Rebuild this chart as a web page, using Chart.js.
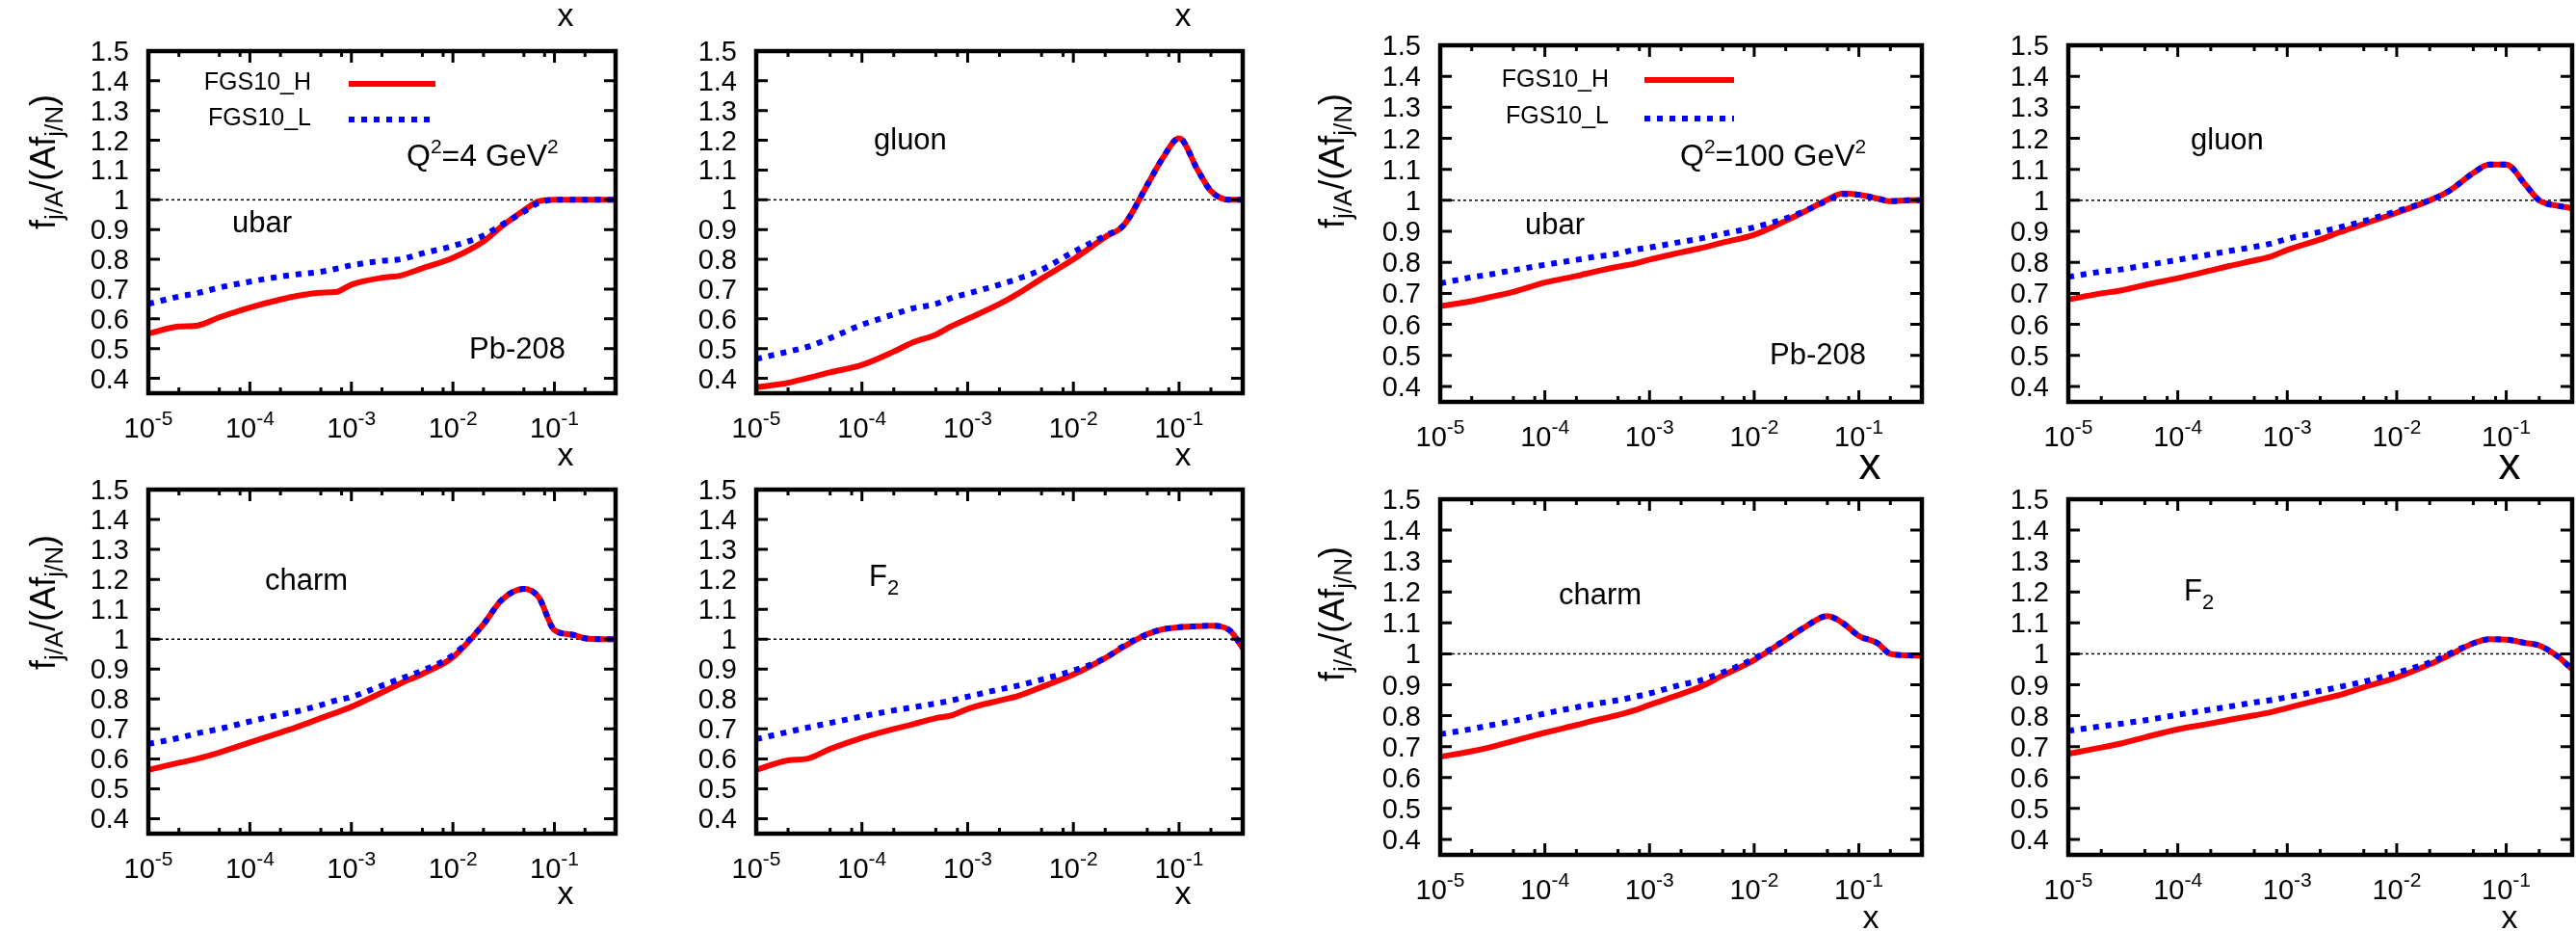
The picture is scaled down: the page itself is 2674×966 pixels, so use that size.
<!DOCTYPE html>
<html>
<head>
<meta charset="utf-8">
<script src="https://cdn.jsdelivr.net/npm/chart.js@4.4.1/dist/chart.umd.min.js"></script>
<style>
  html, body { margin: 0; padding: 0; background: #fff; overflow: hidden; }
  #fig { position: relative; width: 2674px; height: 966px; }
  #fig canvas { position: absolute; }
</style>
</head>
<body>
<div id="fig"></div>
<script>
// x values (Bjorken x) shared by every curve
const xGrid = [1e-5, 2e-5, 3e-5, 5e-5, 1e-4, 2e-4, 3e-4, 5e-4, 7e-4, 1e-3, 2e-3, 3e-3, 5e-3,
               1e-2, 2e-2, 3e-2, 5e-2, 7e-2, 0.1, 0.15, 0.2, 0.3, 0.4];

// Q^2 = 4 GeV^2
const ubar4H  = [0.55, 0.574, 0.577, 0.605, 0.638, 0.665, 0.678, 0.688, 0.69, 0.715, 0.738, 0.745, 0.77, 0.805, 0.86, 0.91, 0.965, 0.995, 1.0, 1.0, 1.0, 1.0, 1.0];
const ubar4L  = [0.65, 0.675, 0.686, 0.705, 0.725, 0.742, 0.75, 0.758, 0.768, 0.78, 0.795, 0.80, 0.82, 0.845, 0.88, 0.915, 0.96, 0.99, 1.0, 1.0, 1.0, 1.0, 1.0];
const gluon4H = [0.37, 0.385, 0.40, 0.42, 0.445, 0.49, 0.52, 0.547, 0.575, 0.60, 0.65, 0.685, 0.735, 0.80, 0.875, 0.915, 1.05, 1.14, 1.207, 1.10, 1.03, 1.0, 1.0];
const gluon4L = [0.465, 0.49, 0.505, 0.535, 0.58, 0.615, 0.635, 0.65, 0.67, 0.685, 0.715, 0.735, 0.765, 0.825, 0.88, 0.915, 1.05, 1.14, 1.207, 1.10, 1.03, 1.0, 1.0];
const charm4H = [0.563, 0.587, 0.60, 0.621, 0.655, 0.688, 0.708, 0.736, 0.754, 0.774, 0.822, 0.851, 0.884, 0.94, 1.05, 1.13, 1.168, 1.14, 1.03, 1.015, 1.003, 1.0, 1.0];
const charm4L = [0.65, 0.67, 0.685, 0.70, 0.725, 0.748, 0.76, 0.78, 0.795, 0.807, 0.845, 0.867, 0.895, 0.947, 1.05, 1.13, 1.168, 1.14, 1.03, 1.015, 1.003, 1.0, 1.0];
const f2_4H   = [0.563, 0.595, 0.60, 0.633, 0.67, 0.70, 0.715, 0.736, 0.745, 0.767, 0.795, 0.81, 0.84, 0.882, 0.937, 0.975, 1.017, 1.033, 1.04, 1.043, 1.045, 1.03, 0.97];
const f2_4L   = [0.666, 0.69, 0.704, 0.72, 0.742, 0.762, 0.772, 0.785, 0.795, 0.808, 0.832, 0.845, 0.865, 0.895, 0.937, 0.978, 1.017, 1.033, 1.04, 1.043, 1.045, 1.03, 0.97];

// Q^2 = 100 GeV^2
const ubar100H  = [0.659, 0.675, 0.688, 0.705, 0.735, 0.756, 0.77, 0.786, 0.795, 0.809, 0.832, 0.845, 0.864, 0.889, 0.934, 0.963, 1.002, 1.022, 1.018, 1.006, 0.997, 1.0, 1.0];
const ubar100L  = [0.732, 0.752, 0.761, 0.775, 0.792, 0.808, 0.818, 0.828, 0.84, 0.848, 0.866, 0.876, 0.892, 0.913, 0.942, 0.965, 0.999, 1.02, 1.018, 1.006, 0.997, 1.0, 1.0];
const gluon100H = [0.68, 0.70, 0.709, 0.727, 0.749, 0.774, 0.789, 0.806, 0.818, 0.84, 0.874, 0.897, 0.924, 0.96, 1.0, 1.03, 1.088, 1.115, 1.115, 1.05, 1.0, 0.982, 0.975];
const gluon100L = [0.753, 0.77, 0.777, 0.79, 0.808, 0.826, 0.837, 0.85, 0.86, 0.876, 0.898, 0.913, 0.933, 0.965, 1.0, 1.03, 1.088, 1.115, 1.115, 1.05, 1.0, 0.982, 0.975];
const charm100H = [0.667, 0.685, 0.698, 0.718, 0.745, 0.77, 0.785, 0.802, 0.816, 0.835, 0.87, 0.892, 0.93, 0.98, 1.046, 1.085, 1.122, 1.10, 1.058, 1.035, 1.0, 0.995, 0.994];
const charm100L = [0.74, 0.757, 0.769, 0.783, 0.807, 0.827, 0.838, 0.85, 0.86, 0.872, 0.90, 0.913, 0.94, 0.985, 1.046, 1.085, 1.122, 1.10, 1.058, 1.035, 1.0, 0.995, 0.994];
const f2_100H   = [0.677, 0.697, 0.71, 0.73, 0.756, 0.775, 0.787, 0.801, 0.811, 0.825, 0.852, 0.867, 0.892, 0.924, 0.966, 0.995, 1.034, 1.047, 1.046, 1.035, 1.027, 0.99, 0.95];
const f2_100L   = [0.751, 0.766, 0.774, 0.785, 0.803, 0.82, 0.83, 0.843, 0.85, 0.86, 0.88, 0.893, 0.91, 0.939, 0.972, 1.0, 1.034, 1.047, 1.046, 1.035, 1.027, 0.99, 0.95];

const seriesNames = ['FGS10_H', 'FGS10_L'];
const refLevel = 1;
const xMin = 1e-5, xMax = 0.4, yMin = 0.35, yMax = 1.5;
const yTicks = [0.4, 0.5, 0.6, 0.7, 0.8, 0.9, 1, 1.1, 1.2, 1.3, 1.4, 1.5];
const yTickLabels = ['0.4', '0.5', '0.6', '0.7', '0.8', '0.9', '1', '1.1', '1.2', '1.3', '1.4', '1.5'];
const xMajorTicks = [1e-5, 1e-4, 1e-3, 1e-2, 1e-1];
const xTickExps = ['-5', '-4', '-3', '-2', '-1'];
const xMinorTicks = [2e-5, 5e-5, 8e-5, 2e-4, 5e-4, 8e-4, 2e-3, 5e-3, 8e-3, 2e-2, 5e-2, 8e-2, 2e-1];

const FONT = '"Liberation Sans", Arial, Helvetica, sans-serif';
const ML = 150, MR = 20, MT = 60, MB = 100;

const yTitle = [['f', 36], ['j/A', 26, 8], ['/(A', 36], ['f', 36], ['j/N', 26, 8], [')', 36]];
const leg4 = { textRight: 169, rows: [40, 77], line: [208, 298], lineRows: [34, 71] };
const leg100 = { textRight: 175, rows: [43, 81], line: [212, 305], lineRows: [36, 76] };

const panels = [
  { high: ubar4H, low: ubar4L, box: [154, 53, 639, 408], ytitle: [-97, 115], legend: leg4,
    notes: [
      { segs: [['ubar', 31]], dx: 87, dy: 188 },
      { segs: [['Pb-208', 31]], dx: 333, dy: 319 },
      { segs: [['Q', 32], ['2', 21, -13], ['=4 GeV', 32], ['2', 21, -13]], dx: 268, dy: 119 },
      { segs: [['x', 34]], dx: 433, dy: -26, align: 'center' },
      { segs: [['x', 34]], dx: 433, dy: 430, align: 'center' } ] },
  { high: gluon4H, low: gluon4L, box: [785, 53, 1290, 408],
    notes: [
      { segs: [['gluon', 31]], dx: 122, dy: 102 },
      { segs: [['x', 34]], dx: 443, dy: -26, align: 'center' },
      { segs: [['x', 34]], dx: 443, dy: 430, align: 'center' } ] },
  { high: ubar100H, low: ubar100L, box: [1495, 47, 1995, 417], ytitle: [-100, 120], legend: leg100,
    notes: [
      { segs: [['ubar', 31]], dx: 88, dy: 196 },
      { segs: [['Pb-208', 31]], dx: 342, dy: 331 },
      { segs: [['Q', 32], ['2', 21, -13], ['=100 GeV', 32], ['2', 21, -13]], dx: 249, dy: 125 },
      { segs: [['x', 46]], dx: 446, dy: 450, align: 'center' } ] },
  { high: gluon100H, low: gluon100L, box: [2147, 47, 2670, 417],
    notes: [
      { segs: [['gluon', 31]], dx: 127, dy: 108 },
      { segs: [['x', 46]], dx: 458, dy: 450, align: 'center' } ] },
  { high: charm4H, low: charm4L, box: [154, 508, 639, 865], ytitle: [-97, 117],
    notes: [
      { segs: [['charm', 31]], dx: 121, dy: 104 },
      { segs: [['x', 34]], dx: 433, dy: 430, align: 'center' } ] },
  { high: f2_4H, low: f2_4L, box: [785, 508, 1290, 865],
    notes: [
      { segs: [['F', 31], ['2', 22, 9]], dx: 117, dy: 100 },
      { segs: [['x', 34]], dx: 443, dy: 430, align: 'center' } ] },
  { high: charm100H, low: charm100L, box: [1495, 518, 1995, 887], ytitle: [-100, 119],
    notes: [
      { segs: [['charm', 31]], dx: 123, dy: 109 },
      { segs: [['x', 34]], dx: 447, dy: 445, align: 'center' } ] },
  { high: f2_100H, low: f2_100L, box: [2147, 518, 2670, 887],
    notes: [
      { segs: [['F', 31], ['2', 22, 9]], dx: 120, dy: 105 },
      { segs: [['x', 34]], dx: 458, dy: 445, align: 'center' } ] }
];

function drawRich(ctx, segs, x, y, align) {
  let w = 0;
  segs.forEach(s => { ctx.font = s[1] + 'px ' + FONT; w += ctx.measureText(s[0]).width; });
  let cx = align === 'center' ? x - w / 2 : (align === 'right' ? x - w : x);
  segs.forEach(s => {
    ctx.font = s[1] + 'px ' + FONT;
    ctx.fillText(s[0], cx, y + (s[2] || 0));
    cx += ctx.measureText(s[0]).width;
  });
}

function makeDeco(p) {
  return {
    id: 'deco',
    afterDatasetsDraw(chart) {
      const ctx = chart.ctx, a = chart.chartArea;
      const xs = chart.scales.x, ys = chart.scales.y;
      ctx.save();
      ctx.strokeStyle = '#000';
      ctx.fillStyle = '#000';
      ctx.lineCap = 'butt';

      // inward ticks on all four sides
      ctx.lineWidth = 3;
      ctx.beginPath();
      yTicks.forEach(v => {
        const py = ys.getPixelForValue(v);
        ctx.moveTo(a.left, py); ctx.lineTo(a.left + 12, py);
        ctx.moveTo(a.right, py); ctx.lineTo(a.right - 12, py);
      });
      xMajorTicks.forEach(v => {
        const px = xs.getPixelForValue(v);
        ctx.moveTo(px, a.bottom); ctx.lineTo(px, a.bottom - 12);
        ctx.moveTo(px, a.top); ctx.lineTo(px, a.top + 12);
      });
      xMinorTicks.forEach(v => {
        const px = xs.getPixelForValue(v);
        ctx.moveTo(px, a.bottom); ctx.lineTo(px, a.bottom - 6);
        ctx.moveTo(px, a.top); ctx.lineTo(px, a.top + 6);
      });
      ctx.stroke();

      ctx.lineWidth = 4.5;
      ctx.strokeRect(a.left, a.top, a.right - a.left, a.bottom - a.top);

      // tick labels
      ctx.textBaseline = 'alphabetic';
      ctx.textAlign = 'right';
      ctx.font = '29px ' + FONT;
      yTicks.forEach((v, i) => ctx.fillText(yTickLabels[i], a.left - 20, ys.getPixelForValue(v) + 10));
      ctx.textAlign = 'left';
      xMajorTicks.forEach((v, i) => {
        drawRich(ctx, [['10', 29], [xTickExps[i], 21, -13]], xs.getPixelForValue(v), a.bottom + 46, 'center');
      });

      // notes and axis titles
      p.notes.forEach(n => drawRich(ctx, n.segs, a.left + n.dx, a.top + n.dy, n.align || 'left'));

      if (p.ytitle) {
        ctx.save();
        ctx.translate(a.left + p.ytitle[0], a.top + p.ytitle[1]);
        ctx.rotate(-Math.PI / 2);
        drawRich(ctx, yTitle, 0, 0, 'center');
        ctx.restore();
      }

      // legend
      if (p.legend) {
        const L = p.legend;
        const order = [1, 0];
        order.forEach((di, r) => {
          const ds = chart.data.datasets[di];
          drawRich(ctx, [[ds.label, 25]], a.left + L.textRight, a.top + L.rows[r], 'right');
          ctx.save();
          ctx.strokeStyle = ds.borderColor;
          ctx.lineWidth = ds.borderWidth;
          ctx.setLineDash(ds.borderDash || []);
          ctx.beginPath();
          ctx.moveTo(a.left + L.line[0], a.top + L.lineRows[r]);
          ctx.lineTo(a.left + L.line[1], a.top + L.lineRows[r]);
          ctx.stroke();
          ctx.restore();
        });
      }
      ctx.restore();
    }
  };
}

const toXY = arr => arr.map((v, i) => ({ x: xGrid[i], y: v }));
const fig = document.getElementById('fig');

panels.forEach(p => {
  const [l, t, r, b] = p.box;
  const cv = document.createElement('canvas');
  const w = (r - l) + ML + MR, h = (b - t) + MT + MB;
  cv.width = w; cv.height = h;
  cv.style.left = (l - ML) + 'px';
  cv.style.top = (t - MT) + 'px';
  cv.style.width = w + 'px';
  cv.style.height = h + 'px';
  fig.appendChild(cv);

  new Chart(cv, {
    type: 'line',
    data: {
      datasets: [
        { label: seriesNames[1], data: toXY(p.low), borderColor: '#0000ff', borderWidth: 6,
          borderDash: [6, 7], borderCapStyle: 'butt', pointRadius: 0, fill: false,
          cubicInterpolationMode: 'monotone', order: 0 },
        { label: seriesNames[0], data: toXY(p.high), borderColor: '#ff0000', borderWidth: 6,
          pointRadius: 0, fill: false, cubicInterpolationMode: 'monotone', order: 1 },
        { label: 'ref', data: [{ x: xMin, y: refLevel }, { x: xMax, y: refLevel }],
          borderColor: '#000', borderWidth: 1.5, borderDash: [3, 3], pointRadius: 0, order: 2 }
      ]
    },
    options: {
      responsive: false,
      animation: false,
      devicePixelRatio: 1,
      events: [],
      layout: { padding: { left: ML, right: MR, top: MT, bottom: MB } },
      scales: {
        x: { type: 'logarithmic', min: xMin, max: xMax, display: false },
        y: { type: 'linear', min: yMin, max: yMax, display: false }
      },
      plugins: { legend: { display: false }, tooltip: { enabled: false } }
    },
    plugins: [makeDeco(p)]
  });
});
</script>
</body>
</html>
